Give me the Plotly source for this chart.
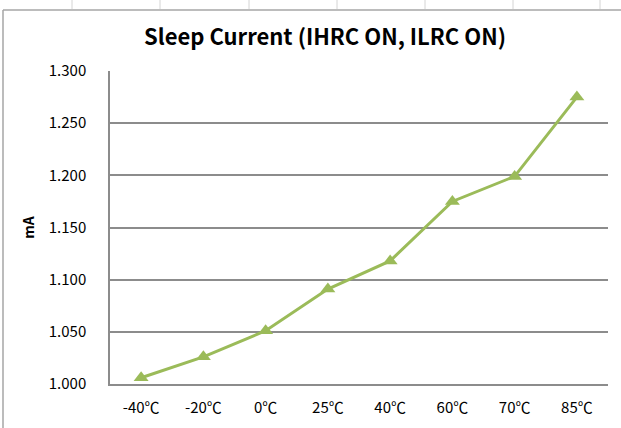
import plotly.graph_objects as go

# Temperature points and measured sleep current (mA)
temperatures = ["-40℃", "-20℃", "0℃", "25℃", "40℃", "60℃", "70℃", "85℃"]
sleep_current_ma = [1.006, 1.026, 1.051, 1.091, 1.118, 1.175, 1.199, 1.275]
y_ticks = [1.000, 1.050, 1.100, 1.150, 1.200, 1.250, 1.300]

W, H = 621, 428
M_L, M_R, M_T, M_B = 110, 13, 71, 44
PW = W - M_L - M_R
PH = H - M_T - M_B


def px_x(x):
    return (x - M_L) / PW


def px_y(y):
    return (H - M_B - y) / PH


GREEN = "#9BBB59"
GRID = "#8c8c8c"
FONT = "Noto Sans CJK SC, Open Sans, DejaVu Sans, sans-serif"

fig = go.Figure(
    go.Scatter(
        x=temperatures,
        y=sleep_current_ma,
        mode="lines+markers",
        line=dict(color=GREEN, width=3),
        marker=dict(symbol="triangle-up", size=13, color=GREEN),
        cliponaxis=False,
        showlegend=False,
    )
)

# Outer chart frame (left and top edges) and faint sheet column marks
shapes = [
    dict(type="line", xref="paper", yref="paper",
         x0=px_x(3), x1=px_x(W + 5), y0=px_y(10), y1=px_y(10),
         line=dict(color="#a6a6a6", width=1.5)),
    dict(type="line", xref="paper", yref="paper",
         x0=px_x(3), x1=px_x(3), y0=px_y(10), y1=px_y(H + 5),
         line=dict(color="#a6a6a6", width=1.5)),
]
for cx in [72, 160, 249, 337, 425, 513, 600]:
    shapes.append(dict(type="line", xref="paper", yref="paper",
                       x0=px_x(cx), x1=px_x(cx), y0=px_y(0), y1=px_y(9),
                       line=dict(color="#d4d4d4", width=1)))

fig.update_layout(
    width=W,
    height=H,
    margin=dict(l=M_L, r=M_R, t=M_T, b=M_B, pad=0),
    paper_bgcolor="white",
    plot_bgcolor="white",
    font=dict(family=FONT, size=15, color="#000000"),
    title=dict(
        text="<b>Sleep Current (IHRC ON, ILRC ON)</b>",
        x=325 / W, xanchor="center",
        y=1 - 37 / H, yanchor="middle",
        font=dict(family=FONT, size=22, color="#000000"),
    ),
    shapes=shapes,
    xaxis=dict(
        type="category",
        range=[-0.5, len(temperatures) - 0.5],
        showgrid=False,
        showline=True,
        linecolor=GRID,
        linewidth=1.5,
        ticks="",
        ticklabelstandoff=9,
        tickfont=dict(family=FONT, size=15, color="#000000"),
        fixedrange=True,
    ),
    yaxis=dict(
        range=[1.0, 1.3],
        tickvals=y_ticks,
        tickformat=".3f",
        showgrid=True,
        gridcolor=GRID,
        gridwidth=1.5,
        showline=True,
        linecolor=GRID,
        linewidth=1.5,
        zeroline=False,
        ticks="",
        ticklabelstandoff=19,
        tickfont=dict(family=FONT, size=15, color="#000000"),
        title=dict(text="<b>mA</b>", standoff=11,
                   font=dict(family=FONT, size=14, color="#000000")),
        fixedrange=True,
    ),
)

fig.write_html("out.html")
